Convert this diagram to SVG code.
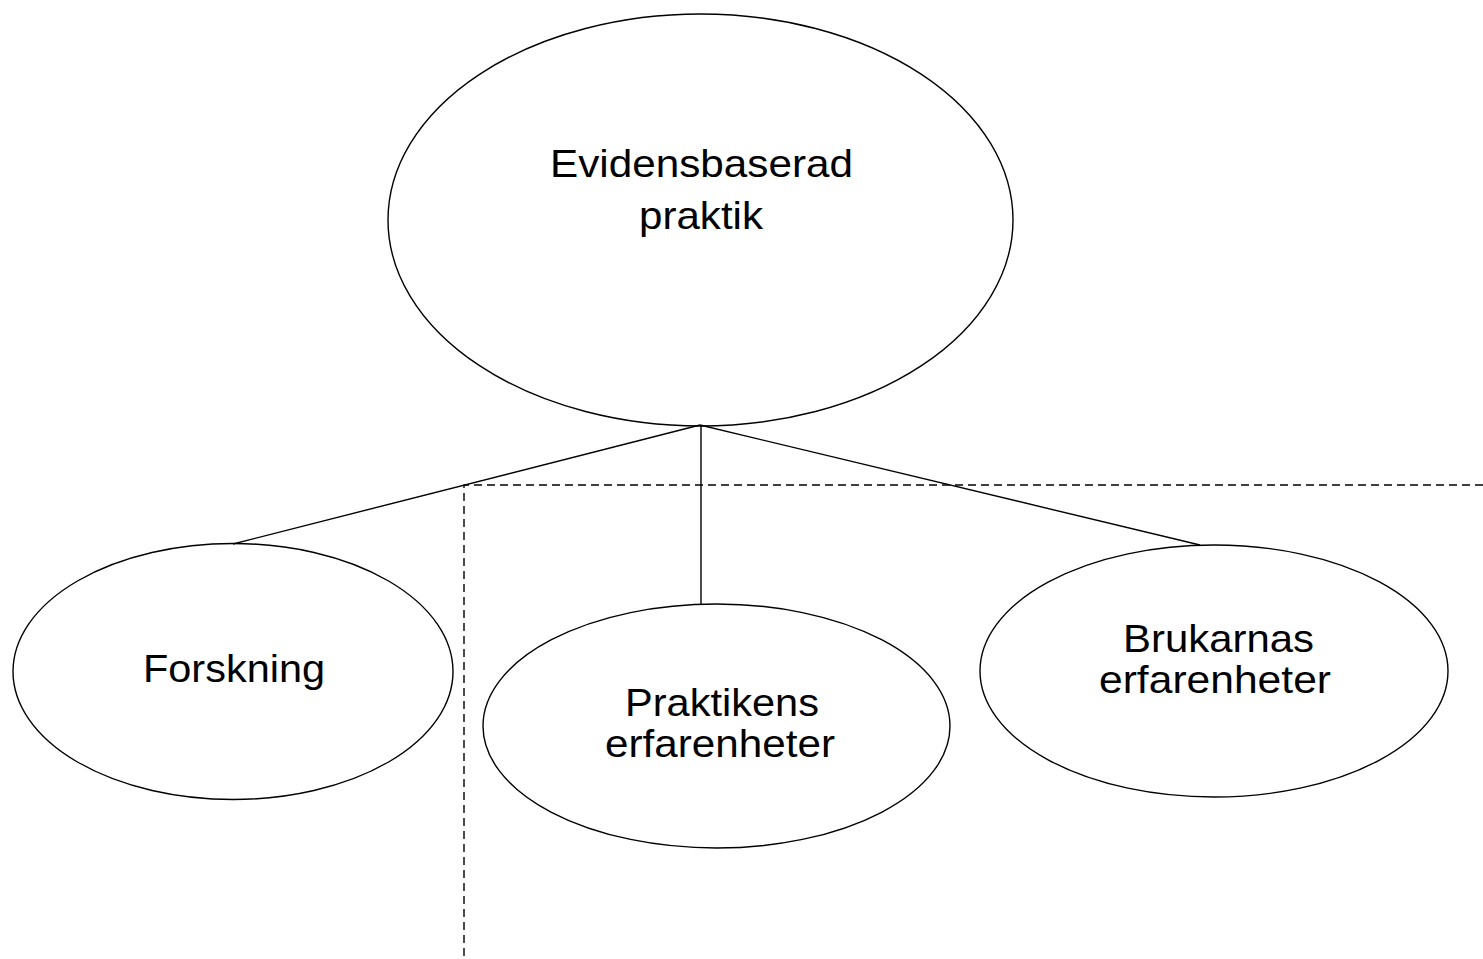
<svg xmlns="http://www.w3.org/2000/svg" width="1483" height="959" viewBox="0 0 1483 959">
<style>
.n{fill:#fff;stroke:#000;stroke-width:1.4}
.c{stroke:#000;stroke-width:1.4;fill:none}
.d{stroke:#000;stroke-width:1.4;fill:none;stroke-dasharray:8 5}
.t{font-family:"Liberation Sans",Arial,sans-serif;font-size:39.5px;fill:#000;text-anchor:middle}
</style>
<rect width="1483" height="959" fill="#fff"/>
<g id="nodes">
<g id="evidens"><ellipse class="n" cx="700.5" cy="220" rx="312.5" ry="206"/>
<text class="t" x="701.5" y="177" textLength="303" lengthAdjust="spacingAndGlyphs">Evidensbaserad</text>
<text class="t" x="701" y="229" textLength="124" lengthAdjust="spacingAndGlyphs">praktik</text></g>
<g id="forskning"><ellipse class="n" cx="233" cy="671.5" rx="220" ry="128"/>
<text class="t" x="234" y="682" textLength="182" lengthAdjust="spacingAndGlyphs">Forskning</text></g>
<g id="praktikens"><ellipse class="n" cx="716.5" cy="726" rx="233.5" ry="122"/>
<text class="t" x="722" y="716" textLength="194" lengthAdjust="spacingAndGlyphs">Praktikens</text>
<text class="t" x="720" y="757" textLength="230" lengthAdjust="spacingAndGlyphs">erfarenheter</text></g>
<g id="brukarnas"><ellipse class="n" cx="1214" cy="671" rx="234" ry="126"/>
<text class="t" x="1218.5" y="652" textLength="191" lengthAdjust="spacingAndGlyphs">Brukarnas</text>
<text class="t" x="1215" y="693" textLength="232" lengthAdjust="spacingAndGlyphs">erfarenheter</text></g>
</g>
<g id="connectors">
<line class="c" x1="700" y1="425" x2="233" y2="544"/>
<line class="c" x1="701" y1="425" x2="701" y2="604"/>
<line class="c" x1="700" y1="425" x2="1200" y2="545"/>
<polyline class="d" points="1483,485 464,485 464,959"/>
</g>
</svg>
